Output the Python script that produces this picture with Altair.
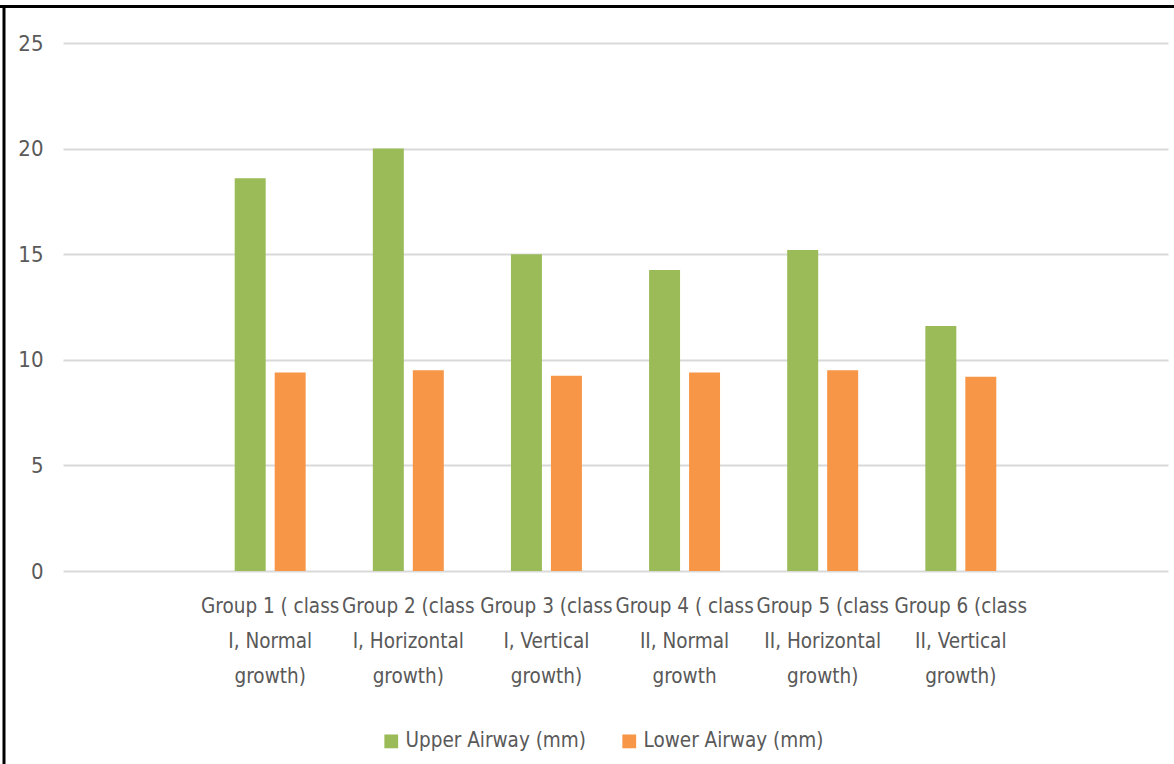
import altair as alt
import pandas as pd

categories = [
    "Group 1 ( class|I, Normal|growth)",
    "Group 2 (class|I, Horizontal|growth)",
    "Group 3 (class|I, Vertical|growth)",
    "Group 4 ( class|II, Normal|growth",
    "Group 5 (class|II, Horizontal|growth)",
    "Group 6 (class|II, Vertical|growth)",
]
series = ["Upper Airway (mm)", "Lower Airway (mm)"]
upper = [18.6, 20.0, 15.0, 14.25, 15.2, 11.6]
lower = [9.4, 9.5, 9.25, 9.4, 9.5, 9.2]
colors = ["#9bbb59", "#f79646"]

rows = []
for c, u, l in zip(categories, upper, lower):
    rows.append({"group": c, "series": series[0], "value": u})
    rows.append({"group": c, "series": series[1], "value": l})
df = pd.DataFrame(rows)

FONT = "DejaVu Sans Condensed, sans-serif"
W, H = 1105, 528

bars = alt.Chart(df).mark_bar().encode(
    x=alt.X("group:N", sort=categories, title=None,
            scale=alt.Scale(paddingInner=0, paddingOuter=1),
            axis=alt.Axis(labelExpr="split(datum.label, '|')", labelAngle=0,
                          labelPadding=25, labelLineHeight=35, labelLimit=300,
                          domain=False, ticks=False, grid=False,
                          labelBaseline="top", labelFontSize=20.5)),
    xOffset=alt.XOffset("series:N", sort=series,
                        scale=alt.Scale(paddingInner=0.225, paddingOuter=0.84)),
    y=alt.Y("value:Q", title=None,
            scale=alt.Scale(domain=[0, 25], nice=False),
            axis=alt.Axis(values=[0, 5, 10, 15, 20, 25], domain=False, ticks=False,
                          labelPadding=20, gridColor="#d9d9d9", gridWidth=2,
                          labelFontSize=22)),
    color=alt.Color("series:N", sort=series, title=None,
                    scale=alt.Scale(domain=series, range=colors),
                    legend=alt.Legend(orient="none", direction="horizontal",
                                      legendX=318, legendY=688,
                                      symbolType="square", symbolSize=190,
                                      symbolStrokeWidth=0, columnPadding=32,
                                      labelOffset=4, labelFontSize=20.5,
                                      labelLimit=400,
                                      labelFont=FONT, labelColor="#595959")),
)

frame_top = alt.Chart(pd.DataFrame({"k": [0]})).mark_rule(
    color="black", strokeWidth=3
).encode(x=alt.value(-63), x2=alt.value(W + 6), y=alt.value(-36.5))
frame_left = alt.Chart(pd.DataFrame({"k": [0]})).mark_rule(
    color="black", strokeWidth=3
).encode(x=alt.value(-59), y=alt.value(-36.5), y2=alt.value(H + 193))

chart = alt.layer(bars, frame_top, frame_left).properties(
    width=W, height=H,
    autosize=alt.AutoSizeParams(type="none"),
    padding={"left": 63, "top": 43, "right": 6, "bottom": 193},
    background="white",
).configure_view(stroke=None).configure_axis(
    labelFont=FONT, labelColor="#595959"
)

chart.save("out.html", embed_options={"renderer": "svg", "actions": False})
